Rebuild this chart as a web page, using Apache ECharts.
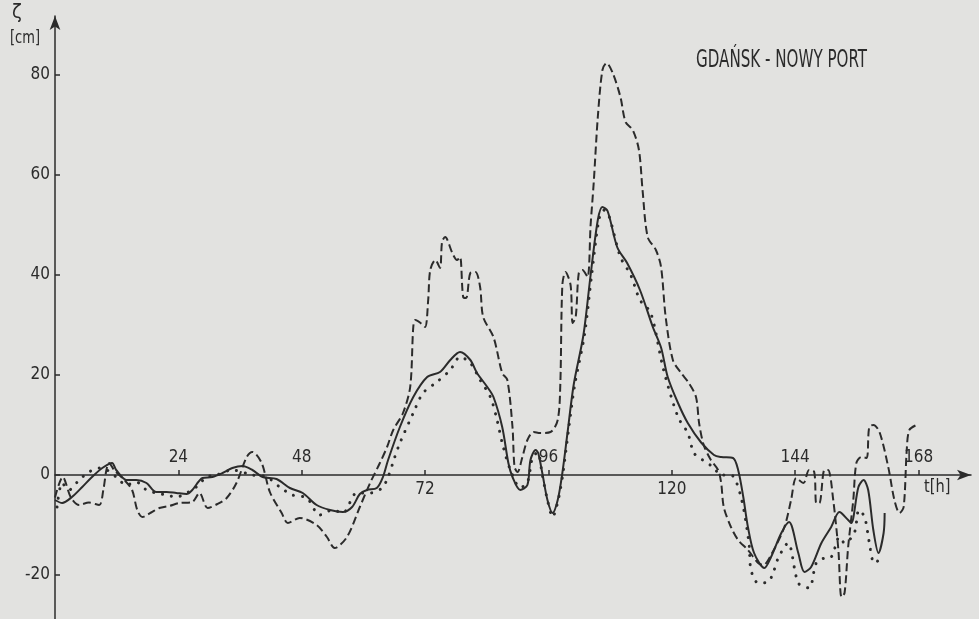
<!DOCTYPE html>
<html><head><meta charset="utf-8">
<script src="https://cdn.jsdelivr.net/npm/echarts@6/dist/echarts.min.js"></script>
<style>html,body{margin:0;padding:0;background:#e2e2e0}#c{width:979px;height:619px}</style>
</head><body><div id="c"></div>
<script>
const xTicks = [24, 48, 72, 96, 120, 144, 168];
const xLabelsAbove = [24, 48, 96, 144, 168];
const xLabelsBelow = [72, 120];
const yTicks = [-20, 0, 20, 40, 60, 80];

const dashedT = [0,1.5,3.1,4.7,6.6,8.6,9.4,10,10.5,11.5,13.5,15,16,17,18.7,20.3,22.2,24.2,26.7,28.1,29.7,31.6,33.4,35.3,37.3,38.4,40.2,41.8,44.1,45.3,47.6,50.9,52.9,54.4,56.8,59.3,61.3,63.2,64.6,65.8,67.7,69.1,69.7,70.1,71.0,72.0,72.6,73.0,74.0,74.9,75.3,75.9,77.3,78.2,78.8,79.4,80.0,80.8,81.8,82.7,83.3,85.3,87.0,88.0,89.0,89.4,90.0,90.9,91.9,93.1,94.4,96.4,97.8,98.3,98.7,99.3,100.3,100.7,101.3,101.9,102.6,103.6,104.2,104.8,105.6,106.5,107.3,108.5,110.0,111.0,112.4,113.6,114.3,115.3,116.9,117.9,118.8,120.2,121.8,123.3,124.7,125.3,126.2,127.6,129.0,129.6,130.1,131.5,132.9,134.8,136.8,137.8,139.3,141.9,143.2,144.2,145.6,146.7,147.7,148.1,148.7,149.7,150.4,151.4,152.4,153.0,153.6,154.3,155.3,155.9,156.9,157.9,158.4,159.2,160.4,162.1,163.3,164.3,165.1,165.7,166.2,167.6];
const dashedV = [-4.5,-0.4,-4.5,-6,-5.5,-6,-3,1,2.4,1,-1,-3,-7,-8.4,-7.5,-6.6,-6.2,-5.6,-5.4,-3.6,-6.6,-5.8,-4.6,-1.6,3.6,4.6,2.4,-3.4,-7.6,-9.6,-8.6,-10,-12.4,-14.6,-12.4,-6.4,-1.6,2.4,5.6,9,12.4,17.6,29.6,31,30.5,29.6,35,41,43,41.4,46.6,47.6,44.4,43,43.6,35.6,35.4,40.4,40.6,37.6,31.6,27.6,20.4,19,9.6,1.6,0.6,3.5,7,8.6,8.4,8.6,11,18,38,40.6,38,30.4,31.6,40.4,41,39.6,50,58.4,71.6,81,82.4,80.4,75.6,70.6,69,65,57,47.6,45,41.6,31.6,23,20.4,18.4,15.6,10.4,6,3,1,-1.6,-6.4,-10.4,-13,-15,-17.6,-18,-16,-10.4,-5,-0.6,-1.6,1,0.6,-5.6,-5.6,1,1,-5,-15,-24.4,-23.6,-14.4,-5,2.4,3.6,3.4,9.6,10,8.6,1.6,-5,-7.6,-6.4,5,9,10];

const solidT = [0,1.4,3.3,5.3,7.2,9.2,11.1,11.9,13.9,15.8,17.8,19.7,21.7,23.6,25.6,26.7,28.7,30.6,32.6,34.5,36.5,38.4,40.4,43.1,45.7,48.2,50.9,53.5,56.0,57.8,59.3,60.7,62.6,63.8,64.8,67.1,69.7,72.4,74.9,76.9,78.8,80.8,82.1,84.1,85.3,87.0,88.2,89.0,90.5,91.9,92.5,93.5,94.0,94.8,95.8,96.8,97.8,98.7,99.7,100.9,102.8,104.2,105.6,106.5,107.5,109.4,111.3,113.8,116.3,117.9,119.2,121.2,123.1,125.7,128.2,129.6,131.9,132.9,133.9,134.8,136.0,138.0,139.3,141.3,142.8,144.6,145.8,147.1,149.1,151.0,152.6,154.3,154.9,156.3,157.3,158.2,159.2,160.2,161.2,161.4];
const solidV = [-5,-5.6,-4.4,-2.4,-0.4,1.4,2.4,1,-1,-1,-1.6,-3.4,-3.4,-3.6,-3.8,-3,-0.6,-0.4,0.4,1.4,1.8,1,-0.4,-0.8,-2.6,-3.6,-6,-7,-7.4,-6.4,-3.8,-3,-2.6,-0.4,3,9.6,15.6,19.6,20.6,23,24.6,23,20.4,17.6,15.6,9.6,2.4,-0.4,-3,-2,3,5,4.4,0.4,-5,-7.6,-5,0.4,8.4,18,28,40,51,53.6,52.8,45.5,42.4,37,29.6,25.5,19.6,14.4,10.4,6.5,4,3.6,3.4,1,-4.4,-10.4,-15.6,-18.6,-16.4,-11.6,-9.4,-15.6,-19.4,-18.4,-13.6,-10.4,-7.4,-9,-9.6,-2.4,-1,-3,-11,-15.6,-11.6,-7.6];

const dottedT = [0.4,1.4,2.7,4.7,6.6,8.6,10.1,11.9,13.9,15.8,17.8,19.7,21.7,23.6,25.6,27.5,29.5,31.4,34.5,38.4,41.2,43.7,46.2,49.0,51.5,54.0,56.0,58.7,61.3,63.6,64.8,66.1,67.1,69.7,71.6,74.3,76.9,78.8,80.8,82.7,84.7,86.0,87.2,88.6,90.5,91.9,92.9,93.9,94.8,95.8,96.8,98.0,98.9,99.9,101.1,103.0,104.4,105.8,106.7,107.7,110.0,112.0,113.8,115.9,118.4,121.2,123.1,124.3,126.0,128.0,129.6,131.5,133.5,135.0,135.4,136.8,138.7,139.7,140.7,142.6,144.6,146.7,148.1,149.7,151.0,152.6,153.6,155.5,156.4,157.5,158.4,159.4,160.8];
const dottedV = [-6.4,-1.6,-3,-1,0.6,1.4,1,-0.4,-2,-1.4,-3,-3.6,-4,-4.4,-3.6,-2.4,-0.4,0,1,0,-0.4,-2.4,-4,-4.6,-8,-7,-7.6,-3.6,-3.6,-2.6,-0.4,3.6,6.4,12.4,16.4,18.6,21,23.6,22.4,19,15.6,11,5.6,1,-2.5,-1.5,3.5,4.5,0,-5,-8.4,-4.5,1,9,18,28,40,51,53,52,43.6,40,35,32.4,21,11.6,8.4,4.4,3,1.6,0,0,-4.6,-13.6,-19,-21.6,-21.4,-19.6,-16.6,-13.6,-21.6,-22.6,-17.6,-16.6,-16.4,-12.4,-13.6,-11.6,-7,-8.4,-13.4,-17.6,-16.6];

const zip = (t, v) => t.map((x, i) => [x, v[i]]);
const INK = '#2b2b2b';
const FONT = "'Liberation Sans Narrow','DejaVu Sans Condensed','Roboto Condensed','Liberation Sans',sans-serif";
const X_MAX = 178.2, Y_MIN = -28.8, Y_MAX = 91.8;

const chart = echarts.init(document.getElementById('c'), null, {renderer: 'canvas'});
chart.setOption({
  backgroundColor: '#e2e2e0',
  animation: false,
  grid: [
    {left: 55, right: 8, top: 16, bottom: 0, containLabel: false, outerBoundsMode: 'none'},
    {left: 55, right: 8, top: 16, height: 459, containLabel: false, outerBoundsMode: 'none'}
  ],
  graphic: [
    {type: 'text', left: 696, top: 49, scaleX: 0.7, style: {text: 'GDAŃSK - NOWY PORT', font: '24px ' + FONT, fill: INK}},
    {type: 'text', left: 12, top: 3, style: {text: 'ζ', font: '20px ' + FONT, fill: INK}},
    {type: 'text', left: 10, top: 30, scaleX: 0.85, style: {text: '[cm]', font: '17px ' + FONT, fill: INK}},
    {type: 'text', left: 924, top: 478, scaleX: 0.9, style: {text: 't[h]', font: '18px ' + FONT, fill: INK}}
  ],
  xAxis: [
    {type: 'value', gridIndex: 0, min: 0, max: X_MAX, show: false},
    {
      type: 'value', gridIndex: 1, position: 'bottom', min: 0, max: X_MAX,
      axisLine: {show: true, onZero: false, symbol: ['none', 'arrow'], symbolSize: [8, 14], lineStyle: {color: INK, width: 1.5}},
      axisTick: {show: true, inside: true, length: 5, customValues: xTicks, lineStyle: {color: INK, width: 1.5}},
      axisLabel: {show: true, inside: true, margin: 9, customValues: xLabelsAbove, fontFamily: FONT, fontSize: 17, color: INK},
      splitLine: {show: false}
    },
    {
      type: 'value', gridIndex: 1, position: 'bottom', min: 0, max: X_MAX,
      axisLine: {show: false, onZero: false},
      axisTick: {show: false},
      axisLabel: {show: true, inside: false, margin: 6, customValues: xLabelsBelow, fontFamily: FONT, fontSize: 17, color: INK},
      splitLine: {show: false}
    }
  ],
  yAxis: [
    {
      type: 'value', gridIndex: 0, min: Y_MIN, max: Y_MAX,
      axisLine: {show: true, onZero: false, symbol: ['none', 'arrow'], symbolSize: [8, 14], lineStyle: {color: INK, width: 1.5}},
      axisTick: {show: true, inside: true, length: 5, customValues: yTicks, lineStyle: {color: INK, width: 1.5}},
      axisLabel: {show: true, margin: 5, customValues: yTicks, fontFamily: FONT, fontSize: 17, color: INK},
      splitLine: {show: false}
    },
    {type: 'value', gridIndex: 1, min: 0, max: Y_MAX, show: false}
  ],
  series: [
    {type: 'line', name: 'dashed', data: zip(dashedT, dashedV), showSymbol: false, smooth: 0.3, xAxisIndex: 0, yAxisIndex: 0,
     lineStyle: {color: INK, width: 2, type: [8, 4]}},
    {type: 'line', name: 'solid', data: zip(solidT, solidV), showSymbol: false, smooth: 0.3, xAxisIndex: 0, yAxisIndex: 0,
     lineStyle: {color: INK, width: 2}},
    {type: 'line', name: 'dotted', data: zip(dottedT, dottedV), showSymbol: false, smooth: 0.3, xAxisIndex: 0, yAxisIndex: 0,
     lineStyle: {color: INK, width: 3, type: [0.1, 9], cap: 'round'}}
  ]
});
</script></body></html>
